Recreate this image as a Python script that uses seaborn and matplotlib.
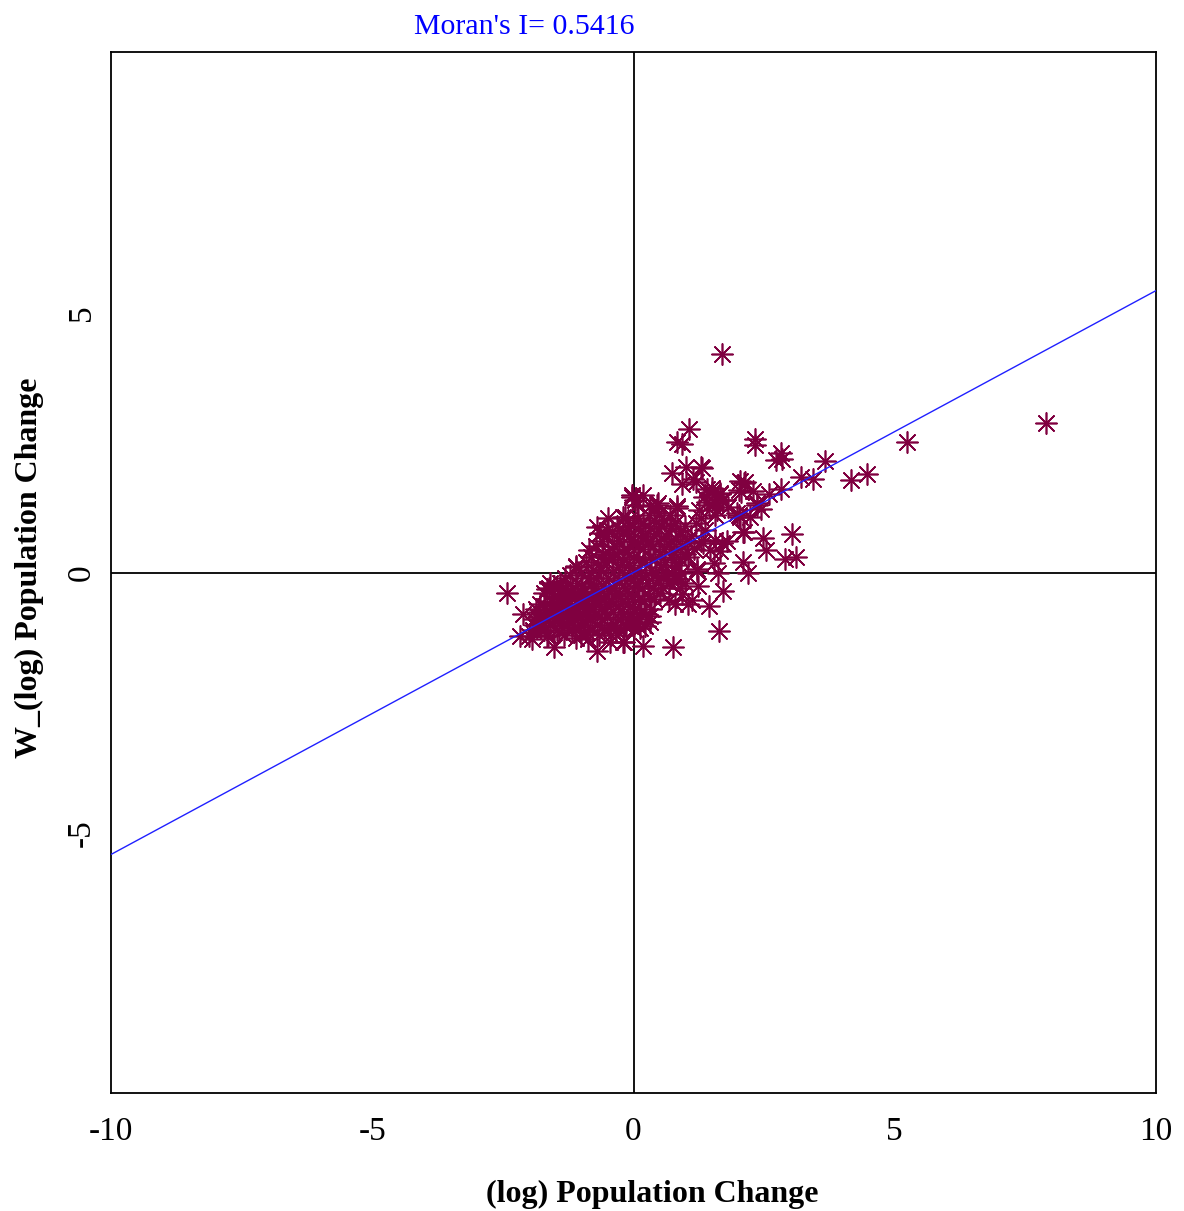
import matplotlib
matplotlib.use('Agg')
import matplotlib.pyplot as plt
import seaborn as sns
import pandas as pd

# Moran scatter: (log) population change vs spatially lagged value
moran_i = 0.5416

# outlying points
x_out = [1.69, 7.89, 5.23, 4.46, 4.17, 3.67, 3.43, 3.20, 2.83, 2.60, 2.82, 2.73, 2.84,
         2.33, 2.33, 1.06, 0.83, 0.92, 3.03, 2.48, 2.53, 3.11, 2.90, 2.10, 2.09, 2.19,
         0.73, 1.00, 1.29, 1.14, 1.19, 0.93, 2.04, 2.12, 2.05, 2.29, 2.37, 2.44, 2.23,
         1.50, 1.66, 1.40, 1.56, 1.72, 0.44, 0.83, 1.98, 2.04, 1.69, 1.78, 1.56, 1.46,
         1.66, 1.53, 1.62, 1.21, 1.33, 1.37, 1.72, 1.45, 1.63, 1.22, 1.24, 1.11, 1.05,
         0.92, 0.79, 0.67, 0.76, 0.18, -0.18, 0.32, 0.12, 0.32, 0.00, 0.22, 0.99, 0.86,
         0.89, -2.42, -2.12, -1.95, -2.01, -2.17, -1.52, -1.66, -0.70, -0.87, -0.45, -0.20,
         -1.10, -0.85, -0.70, -0.51, -0.48, -0.64, -0.16, -0.13, -0.03, 0.03, -1.66, -1.60,
         -0.03, 0.19, 0.06, 0.47, 0.83, 0.32, -0.20, 2.01, 2.36, 2.11, 2.13, 2.01, 1.31]
y_out = [4.19, 2.88, 2.51, 1.89, 1.77, 2.14, 1.79, 1.84, 1.60, 1.51, 2.30, 2.16, 2.19,
         2.57, 2.44, 2.75, 2.51, 2.46, 0.74, 0.66, 0.44, 0.30, 0.25, 0.78, 0.20, -0.01,
         1.91, 2.03, 2.03, 1.79, 1.74, 1.70, 1.76, 1.71, 1.55, 1.56, 1.30, 1.22, 1.07,
         1.62, 1.52, 1.36, 1.33, 1.39, 1.30, 1.27, 1.14, 1.07, 0.57, 0.60, 0.63, 0.44,
         0.41, 0.19, -0.01, 0.06, 0.57, 0.82, -0.36, -0.64, -1.12, 0.02, -0.26, -0.53, -0.61,
         -0.42, -0.61, -0.52, -1.44, -1.41, -1.33, -0.83, -1.06, -0.96, -1.09, -1.02, -0.20, -0.13,
         -0.29, -0.39, -0.80, -1.28, -1.22, -1.22, -1.44, -1.22, -1.50, -1.28, -1.34, -1.34,
         0.12, 0.44, 0.88, 0.82, 1.04, 0.76, 1.07, 0.88, 1.49, 1.39, -0.32, -0.20,
         1.46, 1.49, 1.30, 1.33, 1.23, 1.27, 1.07, 1.58, 1.33, 0.77, 1.74, 1.11, 2.00]

# dense core of the cloud
x_core = [-1.91, -1.88, -1.86, -1.93, -1.79, -1.82, -1.77, -1.81,
          -1.71, -1.68, -1.72, -1.69, -1.73, -1.61, -1.58, -1.62, -1.59, -1.63, -1.57,
          -1.52, -1.49, -1.51, -1.47, -1.53, -1.48, -1.41, -1.38, -1.42, -1.39, -1.43, -1.37, -1.40,
          -1.31, -1.28, -1.32, -1.29, -1.27, -1.33, -1.30, -1.21, -1.18, -1.22, -1.19, -1.23, -1.17, -1.20,
          -1.11, -1.08, -1.12, -1.09, -1.07, -1.13, -1.10, -1.06, -1.01, -0.98, -1.02, -0.99, -0.97, -1.03, -1.00, -0.96,
          -0.91, -0.88, -0.92, -0.89, -0.87, -0.93, -0.90, -0.86, -0.81, -0.78, -0.82, -0.79, -0.77, -0.83, -0.80, -0.76,
          -0.71, -0.68, -0.72, -0.69, -0.67, -0.73, -0.70, -0.66, -0.74, -0.61, -0.58, -0.62, -0.59, -0.57, -0.63, -0.60, -0.56,
          -0.51, -0.48, -0.52, -0.49, -0.47, -0.53, -0.50, -0.46, -0.41, -0.38, -0.42, -0.39, -0.37, -0.43, -0.40, -0.36, -0.44,
          -0.31, -0.28, -0.32, -0.29, -0.27, -0.33, -0.30, -0.26, -0.34, -0.21, -0.18, -0.22, -0.19, -0.17, -0.23, -0.20, -0.16,
          -0.11, -0.08, -0.12, -0.09, -0.07, -0.13, -0.10, -0.06, -0.14, -0.01, 0.02, -0.02, 0.01, 0.03, -0.03, 0.00, 0.04,
          0.09, 0.12, 0.08, 0.11, 0.13, 0.07, 0.10, 0.14, 0.06, 0.19, 0.22, 0.18, 0.21, 0.23, 0.17, 0.20, 0.24,
          0.29, 0.32, 0.28, 0.31, 0.33, 0.27, 0.30, 0.34, 0.39, 0.42, 0.38, 0.41, 0.43, 0.37, 0.40,
          0.49, 0.52, 0.48, 0.51, 0.53, 0.47, 0.50, 0.59, 0.62, 0.58, 0.61, 0.63, 0.57,
          0.69, 0.72, 0.68, 0.71, 0.73, 0.67, 0.79, 0.82, 0.78, 0.81, 0.77, 0.89, 0.92, 0.88, 0.91,
          0.99, 1.02, 0.98, 1.25, 1.35, 1.45, 1.50, 1.60, 1.70, 1.80, 1.55, 1.30, 1.40, 1.65,
          1.10, 1.20, 1.15, 1.30, 1.05]
y_core = [-0.90, -1.00, -0.70, -1.10, -0.60, -0.85, -1.05, -0.75,
          -0.40, -0.90, -1.10, -0.65, -0.80, -0.30, -0.55, -0.80, -1.00, -1.20, -0.70,
          -0.45, -0.60, -0.90, -1.10, -0.25, -0.75, -0.20, -0.50, -0.70, -0.95, -1.15, -0.35, -0.85,
          -0.10, -0.40, -0.60, -0.80, -1.00, -1.20, -0.30, -0.05, -0.30, -0.55, -0.75, -0.90, -1.10, -0.65,
          0.10, -0.20, -0.45, -0.70, -0.85, -1.05, -1.25, -0.60, 0.00, -0.25, -0.50, -0.60, -0.80, -1.00, -1.20, -0.40,
          0.20, -0.10, -0.35, -0.55, -0.75, -0.95, -1.15, -0.65, 0.30, 0.05, -0.20, -0.45, -0.70, -0.90, -1.10, -0.30,
          0.50, 0.15, -0.10, -0.40, -0.60, -0.80, -1.00, -1.20, -0.50, 0.60, 0.35, 0.05, -0.25, -0.50, -0.70, -0.90, -1.10,
          0.70, 0.40, 0.20, -0.10, -0.35, -0.60, -0.85, -1.05, 0.80, 0.50, 0.25, 0.00, -0.30, -0.55, -0.75, -1.00, -1.20,
          0.90, 0.60, 0.35, 0.10, -0.15, -0.40, -0.65, -0.90, -1.10, 0.75, 0.45, 0.20, -0.05, -0.30, -0.55, -0.80, -1.00,
          1.00, 0.70, 0.40, 0.15, -0.10, -0.35, -0.60, -0.85, -1.05, 0.90, 0.60, 0.30, 0.05, -0.20, -0.45, -0.70, -0.95,
          1.05, 0.80, 0.50, 0.25, 0.00, -0.25, -0.50, -0.75, -0.90, 0.95, 0.70, 0.45, 0.20, -0.05, -0.30, -0.55, -0.80,
          1.10, 0.85, 0.55, 0.30, 0.05, -0.20, -0.45, -0.70, 1.00, 0.75, 0.50, 0.25, 0.00, -0.30, -0.50,
          1.15, 0.90, 0.60, 0.35, 0.10, -0.15, -0.40, 1.00, 0.70, 0.45, 0.20, -0.05, -0.30,
          1.10, 0.85, 0.55, 0.30, 0.00, -0.20, 0.95, 0.65, 0.40, 0.15, -0.10, 0.80, 0.50, 0.25, 0.00,
          0.90, 0.60, 0.35, 1.20, 1.45, 1.30, 1.55, 1.20, 1.40, 1.25, 1.10, 1.05, 1.60, 1.50,
          0.70, 0.95, 0.45, 0.60, 0.30]

df = pd.DataFrame({'x': x_out + x_core, 'y': y_out + y_core})
line_x = [-10, 10]
line_df = pd.DataFrame({'x': line_x, 'y': [moran_i * v for v in line_x]})

sns.set_style('white')
plt.rcParams['font.family'] = ['Liberation Serif', 'DejaVu Serif']
plt.rcParams['axes.unicode_minus'] = False

fig = plt.figure(figsize=(11.84, 12.11), dpi=100)
ax = fig.add_axes([0.0938, 0.0974, 0.8826, 0.8597])

ax.axhline(0, color='black', lw=1.3, zorder=1)
ax.axvline(0, color='black', lw=1.3, zorder=1)
sns.scatterplot(data=df, x='x', y='y', ax=ax, marker=(8, 2, 0), s=230,
                color='#800040', linewidth=1.2, zorder=2)
sns.lineplot(data=line_df, x='x', y='y', ax=ax, color='#2020ff', lw=1.0, zorder=3)

ax.set_xlim(-10, 10)
ax.set_ylim(-10, 10)
ax.set_xticks([-10, -5, 0, 5, 10])
ax.set_yticks([-5, 0, 5])
ax.tick_params(axis='both', direction='out', length=9, width=1.2, labelsize=24, colors='black')
ax.tick_params(axis='x', pad=8)
ax.tick_params(axis='y', pad=1)
for lab in ax.get_yticklabels():
    lab.set_rotation(90)
    lab.set_va('center')
for sp in ax.spines.values():
    sp.set_color('black')
    sp.set_linewidth(1.3)

ax.set_xlabel('(log) Population Change', fontsize=23, fontweight='bold', va='center', color='black')
ax.xaxis.set_label_coords(0.518, -0.097)
ax.set_ylabel('W_(log) Population Change', fontsize=23, fontweight='bold', va='center', color='black')
ax.yaxis.set_label_coords(-0.0785, 0.505)
fig.text(524 / 1184, 1 - 27 / 1211, "Moran's I= 0.5416", color='blue', fontsize=21.5,
         ha='center', va='center')

fig.savefig('out.png', dpi=100, facecolor='white')
plt.close()
